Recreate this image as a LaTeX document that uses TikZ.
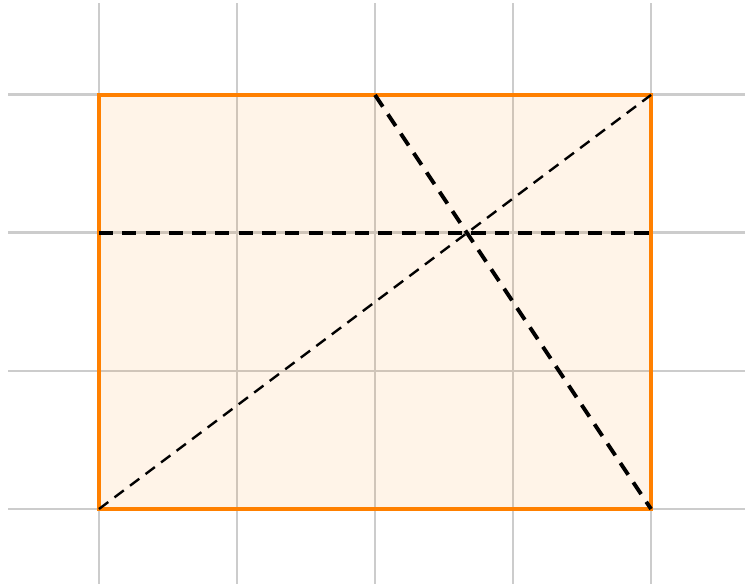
\documentclass[tikz,border=0pt]{standalone}
\usepackage{tikz}
\usetikzlibrary{positioning, calc}
\definecolor{gridgray}{RGB}{204,204,204}
\definecolor{rectorange}{RGB}{255,128,0}

\begin{document}
\begin{tikzpicture}[
  x=1cm, y=1cm,
  gridline/.style={draw=gridgray, line width=0.6pt},
  rectfill/.style={fill=rectorange, fill opacity=0.09},
  rectedge/.style={draw=rectorange, line width=0.65pt},
  heavydash/.style={line width=0.8pt, dash pattern=on 2.9pt off 1.9pt},
  lightdash/.style={line width=0.5pt, dash pattern=on 2.4pt off 1.6pt}
]
\useasboundingbox (-0.717,-0.543) rectangle (4.681,3.688);

% grid
\foreach \i in {0,...,4}
  \draw[gridline] (\i,-0.6) -- (\i,3.666);
\foreach \j in {0,...,3}
  \draw[gridline] (-0.659,\j) -- (4.75,\j);

% corners of the rectangle
\coordinate (sw) at (0,0);
\coordinate (se) at (4,0);
\coordinate (ne) at (4,3);
\coordinate (nw) at (0,3);
\coordinate (topmid) at (2,3);
\coordinate (leftmid) at (0,2);
\coordinate (rightmid) at (4,2);

\fill[rectfill] (sw) rectangle (ne);
\draw[rectedge] (sw) rectangle (ne);

% dashed segments
\draw[heavydash] (leftmid) -- (rightmid);
\draw[heavydash] (topmid) -- (se);
\draw[lightdash] (sw) -- (ne);
\end{tikzpicture}
\end{document}
